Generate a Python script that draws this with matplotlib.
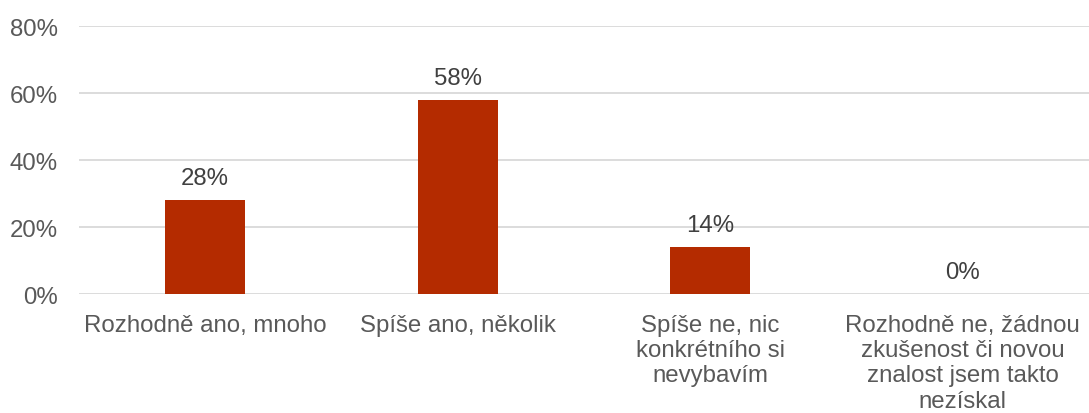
import matplotlib
matplotlib.use("Agg")
import matplotlib.pyplot as plt
from matplotlib.ticker import FuncFormatter

categories = [
    "Rozhodně ano, mnoho",
    "Spíše ano, několik",
    "Spíše ne, nic\nkonkrétního si\nnevybavím",
    "Rozhodně ne, žádnou\nzkušenost či novou\nznalost jsem takto\nnezískal",
]
values = [28, 58, 14, 0]
value_labels = ["28%", "58%", "14%", "0%"]
y_ticks = [0, 20, 40, 60, 80]

text_color = "#595959"
bar_color = "#B42B00"
grid_color = "#D9D9D9"
fs = 17.3

plt.rcParams["font.family"] = ["Liberation Sans", "DejaVu Sans"]

fig = plt.figure(figsize=(10.89, 4.14), dpi=100)
ax = fig.add_axes([0.0725, 0.287, 0.9275, 0.647])

x = list(range(len(categories)))
bars = ax.bar(x, values, width=0.317, color=bar_color, zorder=3)

for xi, v, lab in zip(x, values, value_labels):
    ax.annotate(lab, (xi, v), xytext=(0, 11.5), textcoords="offset points",
                ha="center", va="baseline", fontsize=fs, color="#404040")

ax.set_xlim(-0.5, len(categories) - 0.5)
ax.set_ylim(0, 80)
ax.set_yticks(y_ticks)
ax.yaxis.set_major_formatter(FuncFormatter(lambda v, p: f"{v:.0f}%"))
ax.set_xticks(x)
ax.set_xticklabels(categories, fontsize=fs, color=text_color, linespacing=1.2)

ax.tick_params(axis="y", labelsize=fs, labelcolor=text_color, length=0, pad=15)
ax.tick_params(axis="x", length=0, pad=14)

ax.grid(axis="y", color=grid_color, linewidth=1.3, zorder=0)
for s in ax.spines.values():
    s.set_visible(False)

fig.savefig("out.png", dpi=100)
